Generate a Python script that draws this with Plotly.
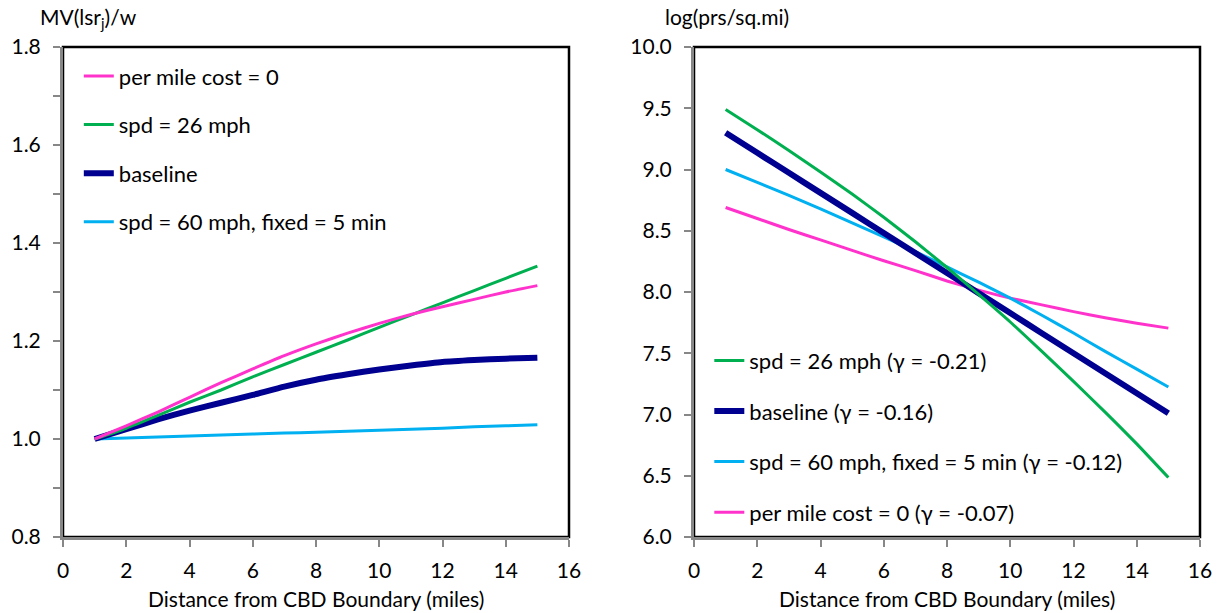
import plotly.graph_objects as go

# ---------------- data ----------------
dist = [1, 2, 3, 4, 5, 6, 7, 8, 9, 10, 11, 12, 13, 14, 15]

# Left panel: MV(lsr_j)/w
mv_pmc0 = [1.000, 1.027, 1.055, 1.085, 1.115, 1.143, 1.170, 1.194, 1.216, 1.236, 1.254, 1.270, 1.285, 1.300, 1.313]
mv_spd26 = [1.000, 1.022, 1.048, 1.075, 1.100, 1.127, 1.152, 1.177, 1.202, 1.228, 1.253, 1.278, 1.303, 1.328, 1.353]
mv_base = [1.000, 1.020, 1.040, 1.058, 1.074, 1.090, 1.107, 1.121, 1.132, 1.142, 1.150, 1.157, 1.161, 1.164, 1.166]
mv_spd60 = [1.000, 1.002, 1.004, 1.006, 1.008, 1.010, 1.012, 1.014, 1.016, 1.018, 1.020, 1.022, 1.025, 1.027, 1.029]

# Right panel: log(prs/sq.mi)
ld_spd26 = [9.490, 9.325, 9.155, 8.980, 8.800, 8.610, 8.410, 8.200, 7.980, 7.755, 7.515, 7.270, 7.020, 6.760, 6.485]
ld_base = [9.300, 9.136, 8.973, 8.809, 8.646, 8.482, 8.318, 8.155, 7.991, 7.828, 7.664, 7.500, 7.337, 7.173, 7.010]
ld_spd60 = [9.000, 8.895, 8.788, 8.678, 8.565, 8.450, 8.330, 8.205, 8.080, 7.950, 7.810, 7.665, 7.515, 7.370, 7.225]
ld_pmc0 = [8.690, 8.600, 8.510, 8.425, 8.340, 8.255, 8.175, 8.090, 8.015, 7.950, 7.895, 7.840, 7.790, 7.745, 7.705]

left_names = ["per mile cost = 0", "spd = 26 mph", "baseline", "spd = 60 mph, fixed = 5 min"]
right_names = ["spd = 26 mph (γ = -0.21)", "baseline (γ = -0.16)",
               "spd = 60 mph, fixed = 5 min (γ = -0.12)", "per mile cost = 0 (γ = -0.07)"]

x_ticks = [0, 2, 4, 6, 8, 10, 12, 14, 16]
left_yticks = [0.8, 1.0, 1.2, 1.4, 1.6, 1.8]
left_yticktext = ["0.8", "1.0", "1.2", "1.4", "1.6", "1.8"]
right_yticks = [6.0, 6.5, 7.0, 7.5, 8.0, 8.5, 9.0, 9.5, 10.0]
right_yticktext = ["6.0", "6.5", "7.0", "7.5", "8.0", "8.5", "9.0", "9.5", "10.0"]

# ---------------- style ----------------
PINK = "#FF33CC"
GREEN = "#00B050"
NAVY = "#000090"
CYAN = "#00B0F0"
GRAY = "#878787"
FONT = "Lato"
FS = 21
LFS = 22

fig = go.Figure()

left_series = [
    (mv_spd60, CYAN, 3, left_names[3], 4),
    (mv_base, NAVY, 6, left_names[2], 3),
    (mv_spd26, GREEN, 3, left_names[1], 2),
    (mv_pmc0, PINK, 3, left_names[0], 1),
]
for ys, col, w, name, rank in left_series:
    fig.add_trace(go.Scatter(
        x=dist, y=ys, mode="lines", name=name, line=dict(color=col, width=w, shape="spline", smoothing=0.5),
        xaxis="x", yaxis="y", legend="legend", legendrank=rank, legendgroup="L" + str(rank),
        hoverinfo="skip"))

right_series = [
    (ld_pmc0, PINK, 3, right_names[3], 4),
    (ld_spd60, CYAN, 3, right_names[2], 3),
    (ld_base, NAVY, 6, right_names[1], 2),
    (ld_spd26, GREEN, 3, right_names[0], 1),
]
for ys, col, w, name, rank in right_series:
    fig.add_trace(go.Scatter(
        x=dist, y=ys, mode="lines", name=name, line=dict(color=col, width=w, shape="spline", smoothing=0.5),
        xaxis="x2", yaxis="y2", legend="legend2", legendrank=rank, legendgroup="R" + str(rank),
        hoverinfo="skip"))

XD1 = [63 / 1220, 569 / 1220]
XD2 = [694 / 1220, 1200 / 1220]
YD = [1 - 537 / 613, 1 - 47 / 613]

axis_common = dict(
    showgrid=False, zeroline=False, showline=True, linecolor=GRAY, linewidth=3,
    ticks="outside", ticklen=7, tickwidth=1.5, tickcolor=GRAY, automargin=False,
    tickfont=dict(family=FONT, size=FS, color="#000000"),
)

fig.update_layout(
    width=1220, height=613, autosize=False,
    margin=dict(l=0, r=0, t=0, b=0, pad=0, autoexpand=False),
    paper_bgcolor="white", plot_bgcolor="white",
    font=dict(family=FONT, size=FS, color="#000000"),
    xaxis=dict(domain=XD1, anchor="y", range=[0, 16], tickvals=x_ticks,
               ticklabelstandoff=6, **axis_common),
    yaxis=dict(domain=YD, anchor="x", range=[0.8, 1.8], tickvals=left_yticks, ticktext=left_yticktext,
               ticklabelstandoff=8,
               minor=dict(dtick=0.1, tick0=0.8, ticks="outside", ticklen=7, tickwidth=1.5, tickcolor=GRAY),
               **axis_common),
    xaxis2=dict(domain=XD2, anchor="y2", range=[0, 16], tickvals=x_ticks,
                ticklabelstandoff=6, **axis_common),
    yaxis2=dict(domain=YD, anchor="x2", range=[6.0, 10.0], tickvals=right_yticks, ticktext=right_yticktext,
                ticklabelstandoff=8, **axis_common),
    legend=dict(x=0.0646, y=0.910, xanchor="left", yanchor="top", bgcolor="rgba(0,0,0,0)",
                font=dict(family=FONT, size=LFS), tracegroupgap=17, itemwidth=30,
                traceorder="grouped"),
    legend2=dict(x=0.5814, y=0.446, xanchor="left", yanchor="top", bgcolor="rgba(0,0,0,0)",
                 font=dict(family=FONT, size=LFS), tracegroupgap=19, itemwidth=30,
                 traceorder="grouped"),
    showlegend=True,
)

for xr, yr in (("x domain", "y domain"), ("x2 domain", "y2 domain")):
    fig.add_shape(type="rect", xref=xr, yref=yr, x0=0, x1=1, y0=0, y1=1,
                  line=dict(color="#000000", width=2.5), layer="below")

fig.add_annotation(text="MV(lsr<sub>j</sub>)/w", xref="paper", yref="paper",
                   x=88 / 1220, y=1 - 18 / 613, xanchor="center", yanchor="middle",
                   showarrow=False, font=dict(family=FONT, size=FS))
fig.add_annotation(text="log(prs/sq.mi)", xref="paper", yref="paper",
                   x=727 / 1220, y=1 - 17 / 613, xanchor="center", yanchor="middle",
                   showarrow=False, font=dict(family=FONT, size=FS))
for xc in ((XD1[0] + XD1[1]) / 2, (XD2[0] + XD2[1]) / 2):
    fig.add_annotation(text="Distance from CBD Boundary (miles)", xref="paper", yref="paper",
                       x=xc, y=1 - 598 / 613, xanchor="center", yanchor="middle",
                       showarrow=False, font=dict(family=FONT, size=FS))

fig.write_html(
    "out.html",
    config={"displayModeBar": False},
    post_script="document.body.style.margin='0';document.body.style.overflow='hidden';",
)
